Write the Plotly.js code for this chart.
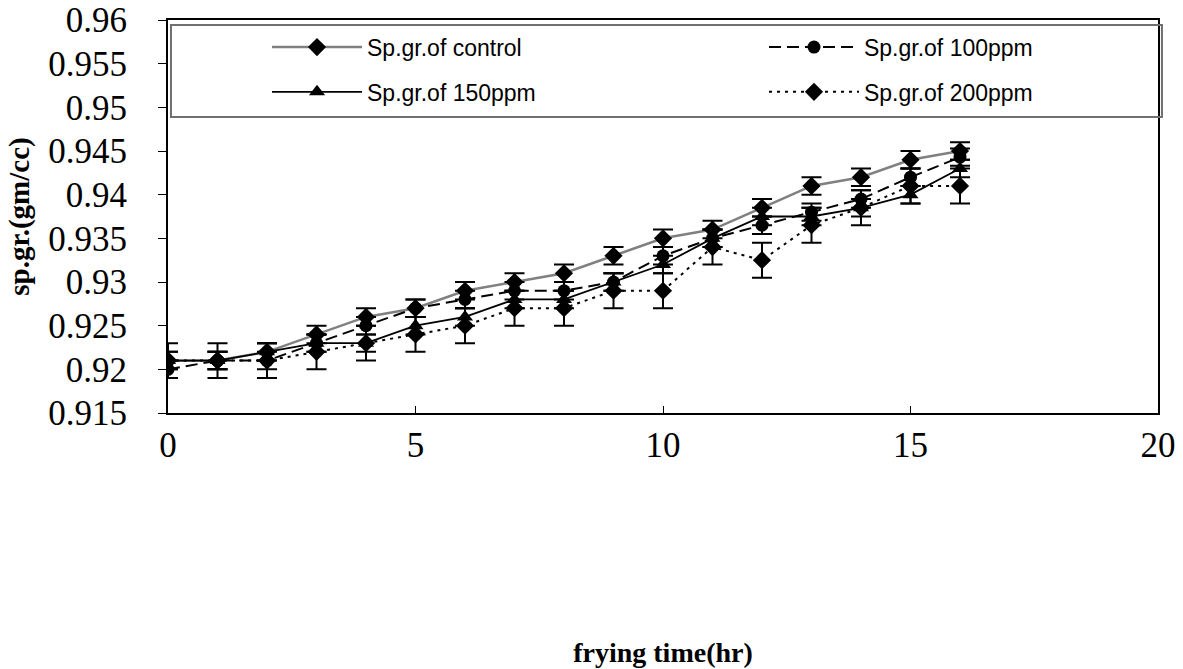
<!DOCTYPE html>
<html>
<head>
<meta charset="utf-8">
<script src="https://cdn.plot.ly/plotly-3.0.1.min.js"></script>
<style>html,body{margin:0;padding:0;background:#fff;}#chart{width:1183px;height:669px;}</style>
</head>
<body>
<div id="chart"></div>
<script>
const fryingTime = [0,1,2,3,4,5,6,7,8,9,10,11,12,13,14,15,16];
const control  = [0.921,0.921,0.922,0.924,0.926,0.927,0.929,0.930,0.931,0.933,0.935,0.936,0.9385,0.941,0.942,0.944,0.945];
const ppm100   = [0.920,0.921,0.921,0.923,0.925,0.927,0.928,0.929,0.929,0.930,0.933,0.935,0.9365,0.938,0.9395,0.942,0.9443];
const ppm150   = [0.921,0.921,0.922,0.923,0.923,0.925,0.926,0.928,0.928,0.930,0.932,0.935,0.9375,0.9375,0.9385,0.940,0.943];
const ppm200   = [0.921,0.921,0.921,0.922,0.923,0.924,0.925,0.927,0.927,0.929,0.929,0.934,0.9325,0.9365,0.9385,0.941,0.941];
const errControl = 0.001, err100 = 0.001, err150 = 0.001, err200 = 0.002;
const names = ['Sp.gr.of control','Sp.gr.of 100ppm','Sp.gr.of 150ppm','Sp.gr.of 200ppm'];
const yTicks = [0.915,0.92,0.925,0.93,0.935,0.94,0.945,0.95,0.955,0.96];
const xTicks = [0,5,10,15,20];

function eb(v){return {type:'constant', value:v, color:'#000', thickness:2, width:10};}
const traces = [
  {x:fryingTime, y:control, name:names[0], legend:'legend', mode:'lines+markers',
   line:{color:'#808080', width:2.5}, marker:{symbol:'diamond', size:14, color:'#000'}, error_y:eb(errControl)},
  {x:fryingTime, y:ppm100, name:names[1], legend:'legend2', mode:'lines+markers',
   line:{color:'#000', width:2, dash:'12px,6px'}, marker:{symbol:'circle', size:13, color:'#000'}, error_y:eb(err100)},
  {x:fryingTime, y:ppm150, name:names[2], legend:'legend3', mode:'lines+markers',
   line:{color:'#000', width:1.8}, marker:{symbol:'triangle-up', size:14, color:'#000'}, error_y:eb(err150)},
  {x:fryingTime, y:ppm200, name:names[3], legend:'legend4', mode:'lines+markers',
   line:{color:'#000', width:2, dash:'3px,5px'}, marker:{symbol:'diamond', size:14, color:'#000'}, error_y:eb(err200)}
];
const serif = '"Liberation Serif", "Times New Roman", serif';
const tickFont = {family:serif, size:35, color:'#000'};
const legFont = {family:'"Liberation Sans", Arial, sans-serif', size:23, color:'#000'};
function leg(x, y){return {orientation:'v', x:x, xanchor:'left', y:y, yanchor:'middle',
          itemwidth:90, font:legFont, bgcolor:'rgba(0,0,0,0)', borderwidth:0};}
const layout = {
  width:1183, height:669,
  margin:{l:168, r:25, t:20, b:256},
  paper_bgcolor:'#fff', plot_bgcolor:'#fff',
  showlegend:true,
  legend:leg(0.1, 0.931),
  legend2:leg(0.602, 0.931),
  legend3:leg(0.1, 0.817),
  legend4:leg(0.602, 0.817),
  shapes:[{type:'rect', xref:'paper', yref:'paper', x0:0.003, x1:1.004, y0:0.753, y1:0.987,
           line:{color:'#707070', width:2}, fillcolor:'rgba(0,0,0,0)', layer:'above'}],
  xaxis:{range:[0,20], tickvals:xTicks, ticktext:xTicks.map(String), ticks:'inside', ticklen:7, tickwidth:1,
         tickcolor:'#000', showgrid:false, zeroline:false, showline:true, linecolor:'#000', linewidth:2, mirror:true,
         tickfont:tickFont, ticklabelstandoff:0,
         title:{text:'<b>frying time(hr)</b>', font:{family:serif, size:28, color:'#000'}, standoff:178}},
  yaxis:{range:[0.915,0.96], tickvals:yTicks, ticktext:yTicks.map(v=>String(v)), ticks:'outside', ticklen:8, tickwidth:1,
         tickcolor:'#000', showgrid:false, zeroline:false, showline:true, linecolor:'#000', linewidth:2, mirror:true,
         tickfont:tickFont, ticklabelstandoff:24,
         title:{text:'<b>sp.gr.(gm/cc)</b>', font:{family:serif, size:29, color:'#000'}, standoff:10}}
};
Plotly.newPlot('chart', traces, layout, {displayModeBar:false, staticPlot:true});
</script>
</body>
</html>
